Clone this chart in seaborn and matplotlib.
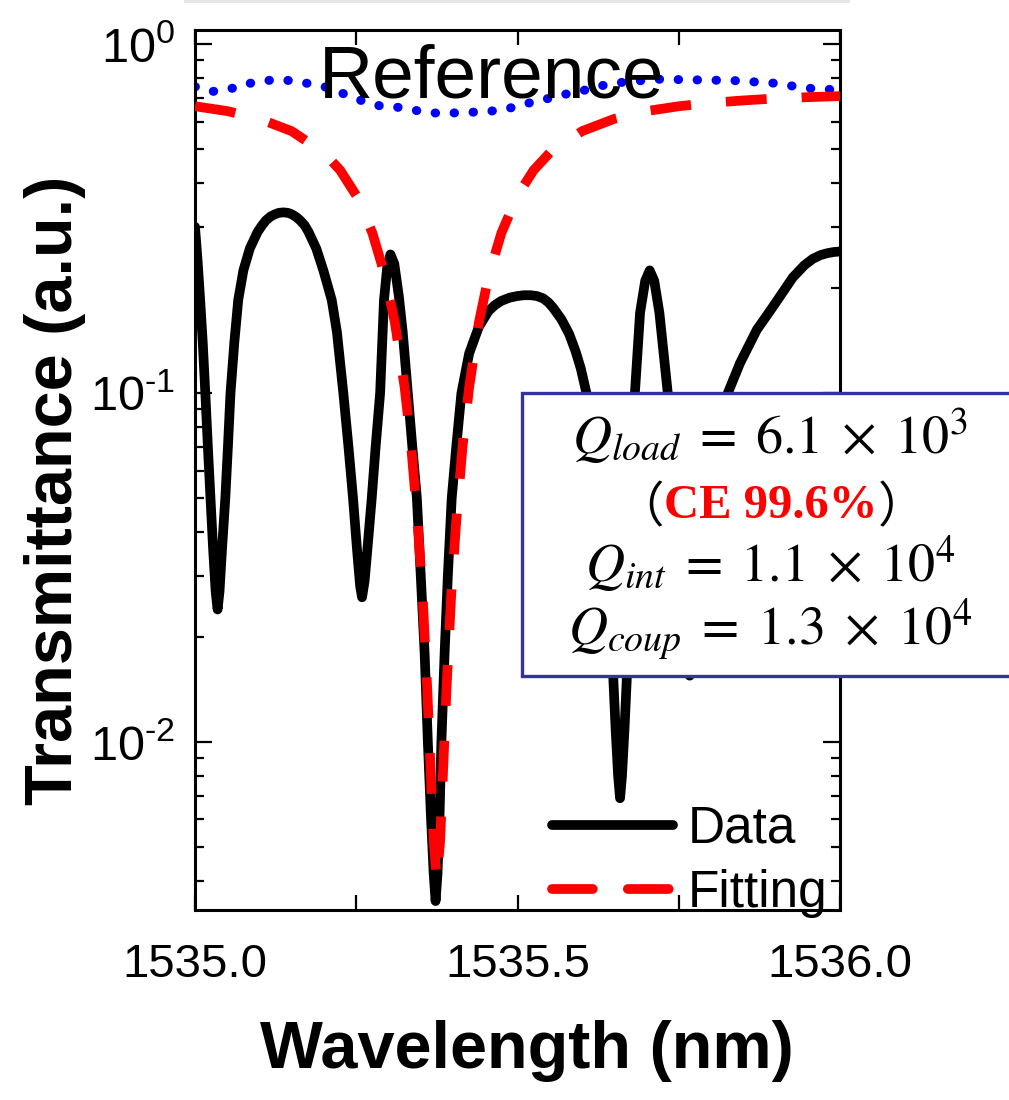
import matplotlib
matplotlib.use("Agg")
import matplotlib.pyplot as plt
from matplotlib.lines import Line2D
from matplotlib.patches import Rectangle
from matplotlib.ticker import FormatStrFormatter, FuncFormatter, LogLocator, MultipleLocator, NullFormatter
import numpy as np
import pandas as pd
import seaborn as sns

# measured transmission (black)
data_wl = [
    1535.000, 1535.004, 1535.008, 1535.012, 1535.016, 1535.020, 1535.024, 1535.028,
    1535.032, 1535.035, 1535.038, 1535.042, 1535.047, 1535.051, 1535.055, 1535.061,
    1535.067, 1535.075, 1535.085, 1535.097, 1535.104, 1535.110, 1535.117, 1535.124,
    1535.130, 1535.137, 1535.144, 1535.150, 1535.157, 1535.163, 1535.170, 1535.176,
    1535.188, 1535.199, 1535.212, 1535.220, 1535.230, 1535.238,
    1535.245, 1535.251, 1535.256, 1535.259, 1535.263, 1535.268, 1535.274, 1535.280,
    1535.287, 1535.293, 1535.298, 1535.303, 1535.309, 1535.316, 1535.322, 1535.330,
    1535.337, 1535.344, 1535.350, 1535.356, 1535.361, 1535.366, 1535.370, 1535.373,
    1535.376, 1535.379, 1535.382, 1535.387, 1535.392, 1535.398, 1535.405, 1535.413,
    1535.425, 1535.440, 1535.455, 1535.465, 1535.475, 1535.488, 1535.500, 1535.510,
    1535.520, 1535.530, 1535.540, 1535.548, 1535.555,
    1535.568, 1535.580, 1535.590, 1535.598, 1535.607, 1535.617, 1535.627, 1535.636,
    1535.643, 1535.648, 1535.652, 1535.656, 1535.659, 1535.662, 1535.666, 1535.670,
    1535.674, 1535.678, 1535.682, 1535.690, 1535.698, 1535.705, 1535.712, 1535.720,
    1535.733, 1535.745, 1535.755, 1535.762, 1535.767, 1535.772, 1535.782, 1535.795,
    1535.810, 1535.826, 1535.845, 1535.871, 1535.896, 1535.927, 1535.945, 1535.958,
    1535.970, 1535.980, 1535.990, 1536.000,
]
data_t = [
    0.30, 0.24, 0.185, 0.14, 0.10, 0.07, 0.05, 0.036,
    0.027, 0.024, 0.027, 0.036, 0.05, 0.07, 0.10, 0.14,
    0.185, 0.225, 0.26, 0.29, 0.303, 0.313, 0.321, 0.326,
    0.329, 0.33, 0.329, 0.326, 0.320, 0.313, 0.303, 0.29,
    0.26, 0.225, 0.185, 0.15, 0.10, 0.07,
    0.05, 0.036, 0.028, 0.026, 0.029, 0.037, 0.05, 0.07,
    0.10, 0.185, 0.23, 0.25, 0.235, 0.19, 0.15, 0.10,
    0.07, 0.05, 0.03, 0.018, 0.010, 0.006, 0.0042, 0.0035,
    0.0042, 0.006, 0.010, 0.018, 0.03, 0.05, 0.07, 0.10,
    0.13, 0.155, 0.172, 0.179, 0.184, 0.188, 0.190, 0.191,
    0.191, 0.190, 0.187, 0.182, 0.176,
    0.163, 0.148, 0.132, 0.118, 0.10, 0.07, 0.05, 0.035,
    0.025, 0.016, 0.011, 0.008, 0.0069, 0.008, 0.011, 0.016,
    0.025, 0.05, 0.10, 0.17, 0.21, 0.225, 0.21, 0.17,
    0.10, 0.05, 0.028, 0.019, 0.0155, 0.019, 0.035, 0.06,
    0.08, 0.10, 0.122, 0.152, 0.177, 0.215, 0.233, 0.243,
    0.249, 0.252, 0.254, 0.255,
]

# Lorentzian fit (red dashed)
fit_wl = [
    1535.000, 1535.050, 1535.100, 1535.150, 1535.200, 1535.225, 1535.250, 1535.275,
    1535.295, 1535.310, 1535.325, 1535.335, 1535.345, 1535.353, 1535.360, 1535.365,
    1535.370, 1535.375, 1535.380, 1535.385, 1535.390, 1535.397, 1535.405, 1535.415,
    1535.425, 1535.440, 1535.455, 1535.475, 1535.500, 1535.525, 1535.550, 1535.600,
    1535.650, 1535.700, 1535.750, 1535.800, 1535.850, 1535.900, 1535.950, 1536.000,
]
fit_t = [
    0.665, 0.644, 0.612, 0.564, 0.489, 0.436, 0.369, 0.288,
    0.216, 0.159, 0.104, 0.071, 0.043, 0.026, 0.0143, 0.0086,
    0.0052, 0.0040, 0.0052, 0.0086, 0.0143, 0.026, 0.043, 0.071,
    0.104, 0.159, 0.216, 0.288, 0.369, 0.436, 0.489, 0.564,
    0.612, 0.644, 0.665, 0.680, 0.691, 0.700, 0.706, 0.711,
]

# reference waveguide (blue dotted)
ref_wl = [
    1535.000, 1535.027, 1535.060, 1535.090, 1535.122, 1535.154, 1535.205, 1535.261,
    1535.289, 1535.316, 1535.344, 1535.371, 1535.399, 1535.428, 1535.456, 1535.483,
    1535.511, 1535.541, 1535.571, 1535.601, 1535.631, 1535.661, 1535.716, 1535.767,
    1535.835, 1535.900, 1535.930, 1535.960, 1536.000,
]
ref_t = [
    0.757, 0.733, 0.750, 0.778, 0.792, 0.787, 0.753, 0.687,
    0.665, 0.660, 0.646, 0.636, 0.636, 0.639, 0.643, 0.653,
    0.675, 0.695, 0.718, 0.737, 0.762, 0.778, 0.795, 0.792,
    0.788, 0.774, 0.758, 0.746, 0.741,
]

x_ticks = [1535.0, 1535.5, 1536.0]
q_lines = [
    r"$Q_{load}\;=\;6.1\;\times\;10^{3}$",
    r"$Q_{int}\;=\;1.1\;\times\;10^{4}$",
    r"$Q_{coup}\;=\;1.3\;\times\;10^{4}$",
]
ce_text = "CE 99.6%"

W, H = 1009, 1100


def fx(px):
    return px / W


def fy(py):
    return 1 - py / H


def decade_label(value, pos):
    exponent = int(round(np.log10(value)))
    sign = "\u2010" if exponent < 0 else ""
    return r"$\mathregular{10^{" + sign + str(abs(exponent)) + "}}$"


sns.set_theme(style="ticks")
plt.rcParams.update(
    {
        "font.family": ["Liberation Sans", "DejaVu Sans"],
        "mathtext.fontset": "custom",
        "mathtext.rm": "Liberation Sans",
        "mathtext.it": "Liberation Sans:italic",
        "mathtext.bf": "Liberation Sans:bold",
        "text.color": "black",
        "axes.labelcolor": "black",
        "axes.linewidth": 2.2,
        "axes.edgecolor": "black",
        "xtick.direction": "in",
        "ytick.direction": "in",
        "xtick.color": "black",
        "ytick.color": "black",
        "xtick.labelcolor": "black",
        "ytick.labelcolor": "black",
    }
)

fig = plt.figure(figsize=(W / 100, H / 100), dpi=100)
ax = fig.add_axes([fx(195), fy(910), fx(840) - fx(195), fy(30) - fy(910)])

data = pd.DataFrame({"wl": data_wl, "t": data_t})
fit = pd.DataFrame({"wl": fit_wl, "t": fit_t})
ref = pd.DataFrame({"wl": ref_wl, "t": ref_t})

sns.lineplot(data=ref, x="wl", y="t", ax=ax, color="#0000ff", lw=6.5,
             linestyle=(0, (0.05, 2.05)), dash_capstyle="round", zorder=2)
sns.lineplot(data=fit, x="wl", y="t", ax=ax, color="#ff0000", lw=7.0,
             linestyle=(0, (4.2, 3.6)), zorder=3)
sns.lineplot(data=data, x="wl", y="t", ax=ax, color="black", lw=7.0,
             solid_capstyle="round", solid_joinstyle="round", zorder=2.5)

ax.set_yscale("log")
ax.set_xlim(1535.0, 1536.0)
ax.set_ylim(0.0033, 1.1)

ax.xaxis.set_minor_locator(MultipleLocator(0.25))
ax.set_xticks(x_ticks)
ax.xaxis.set_major_formatter(FormatStrFormatter("%.1f"))
ax.yaxis.set_major_locator(LogLocator(base=10))
ax.yaxis.set_minor_locator(LogLocator(base=10, subs=range(2, 10)))
ax.yaxis.set_major_formatter(FuncFormatter(decade_label))
ax.yaxis.set_minor_formatter(NullFormatter())

ax.tick_params(which="both", top=True, right=True, width=1.6)
ax.tick_params(axis="x", which="both", length=11, labelsize=34, pad=24)
ax.tick_params(axis="y", which="major", length=12, labelsize=35, pad=14)
ax.tick_params(axis="y", which="minor", length=6.5)
for side in ax.spines.values():
    side.set_visible(True)
    side.set_linewidth(2.2)

ax.set_xlabel("Wavelength (nm)", fontsize=48, fontweight="bold")
ax.set_ylabel("Transmittance (a.u.)", fontsize=48, fontweight="bold")
ax.xaxis.label.set_va("baseline")
ax.yaxis.label.set_va("baseline")
ax.xaxis.set_label_coords((527 - 195) / 645, (910 - 1068) / 880)
ax.yaxis.set_label_coords((72 - 195) / 645, (910 - 490) / 880)

ax.text((492 - 195) / 645, (910 - 98) / 880, "Reference", transform=ax.transAxes,
        ha="center", va="baseline", fontsize=54, color="black", zorder=6)

handles = [
    Line2D([], [], color="black", lw=7.0, solid_capstyle="round"),
    Line2D([], [], color="#ff0000", lw=7.0, linestyle=(0, (4.2, 3.6)), dash_capstyle="round"),
]
ax.legend(handles, ["Data", "Fitting"], loc="lower right",
          bbox_to_anchor=((828 - 195) / 645, -0.009), frameon=False, fontsize=37,
          handlelength=2.35, handletextpad=0.3, labelspacing=0.3,
          borderpad=0.0, borderaxespad=0.0)

# annotation box with Q factors
box = Rectangle((fx(522), fy(676)), 0.6, fy(393) - fy(676), transform=fig.transFigure,
                facecolor="white", edgecolor="#333399", lw=2.4, clip_on=False, zorder=4)
ax.add_patch(box)
for text, py in zip(q_lines, [454, 582, 645]):
    ax.text(fx(770), fy(py), text, transform=fig.transFigure, ha="center", va="baseline",
            fontsize=39, math_fontfamily="stix", color="black", zorder=5)
ce = ax.text(fx(771), fy(518), ce_text, transform=fig.transFigure, ha="center",
             va="baseline", fontsize=35, fontweight="bold", color="#ff0000",
             family=["Liberation Serif", "DejaVu Serif"], zorder=5)
ax.annotate("（", xy=(0, 0.45), xycoords=ce, ha="right", va="center", fontsize=35,
            family=["Noto Sans CJK SC", "DejaVu Sans"], zorder=5, annotation_clip=False)
ax.annotate("）", xy=(1, 0.45), xycoords=ce, ha="left", va="center", fontsize=35,
            family=["Noto Sans CJK SC", "DejaVu Sans"], zorder=5, annotation_clip=False)

fig.patches.append(Rectangle((fx(184), fy(3)), fx(850) - fx(184), 3 / H,
                             transform=fig.transFigure, facecolor="#e5e5e5",
                             edgecolor="none", zorder=0))

fig.savefig("out.png", dpi=100, facecolor="white")
